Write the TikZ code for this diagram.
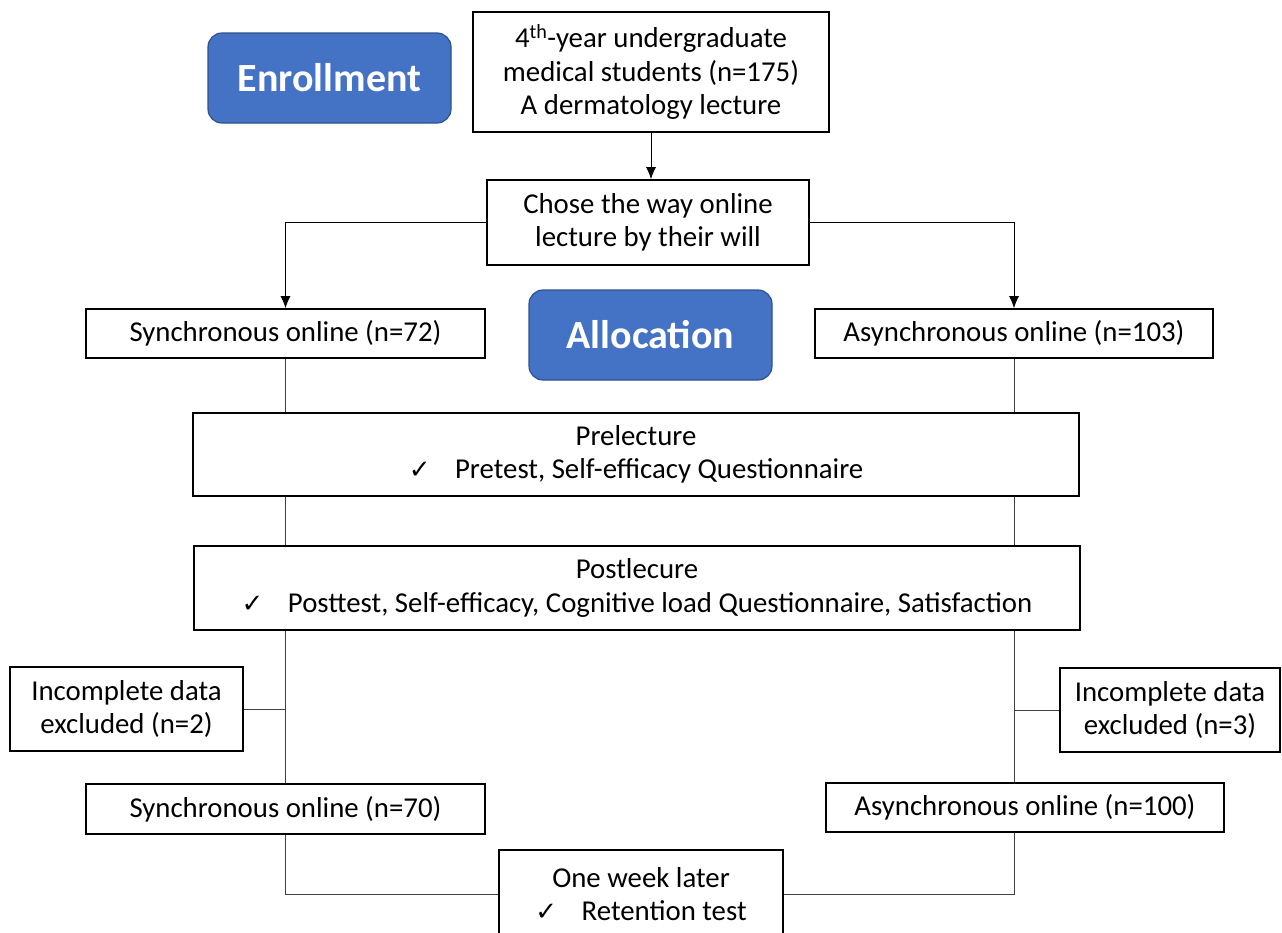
\documentclass[tikz,border=0pt]{standalone}
\usepackage{fontspec}
\setmainfont{Carlito}
\newfontfamily\symfont{DejaVu Sans}
\usepackage{tikz}
\usetikzlibrary{arrows.meta}

\definecolor{phaseblue}{HTML}{4472C4}
\definecolor{phaseedge}{HTML}{2F528F}
\definecolor{linkgray}{HTML}{404040}

\newcommand{\tick}{{\symfont\fontsize{26}{30}\selectfont ✓}\hspace{0.85em}}

\begin{document}
\begin{tikzpicture}[x=1pt, y=-1pt]

        % Define box styles
        \tikzstyle{stage} = [draw, line width=1.6pt, inner sep=0pt, align=center,
                             font=\fontsize{28.8}{33.5}\selectfont]
        \tikzstyle{phase} = [draw=phaseedge, line width=1.2pt, fill=phaseblue, rounded corners=14pt,
                             minimum width=243, minimum height=90, text=white,
                             font=\bfseries\fontsize{40}{44}\selectfont]
        \tikzstyle{link} = [draw=linkgray, line width=0.9pt]
        \tikzstyle{linkarrow} = [link, draw=black, -{Latex[length=12pt, width=10pt]}]

        \useasboundingbox (0,0) rectangle (1282,932);
        \clip (0,0) rectangle (1282,932);

        % Phase labels
        \node[phase] (enroll) at (329.5,78) {Enrollment};
        \node[phase] (alloc) at (650.5,335) {Allocation};

        % Enrollment
        \node[stage, minimum width=356, minimum height=120] (students) at (651,72)
            {4\textsuperscript{th}-year undergraduate\\medical students (n=175)\\A dermatology lecture};
        \node[stage, minimum width=322, minimum height=85] (chose) at (648,222.5)
            {Chose the way online\\lecture by their will};

        % Allocation
        \node[stage, minimum width=399, minimum height=49] (sync1) at (285.5,333.5) {Synchronous online (n=72)};
        \node[stage, minimum width=398, minimum height=49] (async1) at (1014,333.5) {Asynchronous online (n=103)};

        % Lectures
        \node[stage, minimum width=886, minimum height=83] (pre) at (636,454.5)
            {Prelecture\\\tick Pretest, Self-efficacy Questionnaire};
        \node[stage, minimum width=886, minimum height=84] (post) at (637,588)
            {Postlecure\\\tick Posttest, Self-efficacy, Cognitive load Questionnaire, Satisfaction};

        % Exclusions
        \node[stage, minimum width=233, minimum height=84] (excl1) at (126.5,709) {Incomplete data\\excluded (n=2)};
        \node[stage, minimum width=220, minimum height=84] (excl2) at (1170,710) {Incomplete data\\excluded (n=3)};

        % Analysed groups
        \node[stage, minimum width=399, minimum height=50] (sync2) at (285.5,809) {Synchronous online (n=70)};
        \node[stage, minimum width=398, minimum height=49] (async2) at (1025,807.5) {Asynchronous online (n=100)};

        % Follow-up
        \node[stage, minimum width=284, minimum height=88] (week) at (641,894)
            {One week later\\\tick Retention test};

        % Draw arrows from Enrollment to Allocation
        \draw[linkarrow] (students.south) -- (students.south |- chose.north);
        \draw[linkarrow] (chose.west) -| (sync1.north);
        \draw[linkarrow] (chose.east) -| (async1.north);

        % Draw links through the lectures
        \draw[link] (sync1.south) -- (sync1.south |- pre.north);
        \draw[link] (async1.south) -- (async1.south |- pre.north);
        \draw[link] (pre.south -| sync1) -- (post.north -| sync1);
        \draw[link] (pre.south -| async1) -- (post.north -| async1);
        \draw[link] (post.south -| sync1) -- (sync2.north);
        \draw[link] (post.south -| async1) -- (async2.north -| async1);

        % Draw links to the exclusions
        \draw[link] (excl1.east) -- (excl1.east -| sync1);
        \draw[link] (excl2.west) -- (excl2.west -| async1);

        % Draw links to the follow-up
        \draw[link] (sync2.south) |- (week.west);
        \draw[link] (async2.south -| async1) |- (week.east);

\end{tikzpicture}
\end{document}
